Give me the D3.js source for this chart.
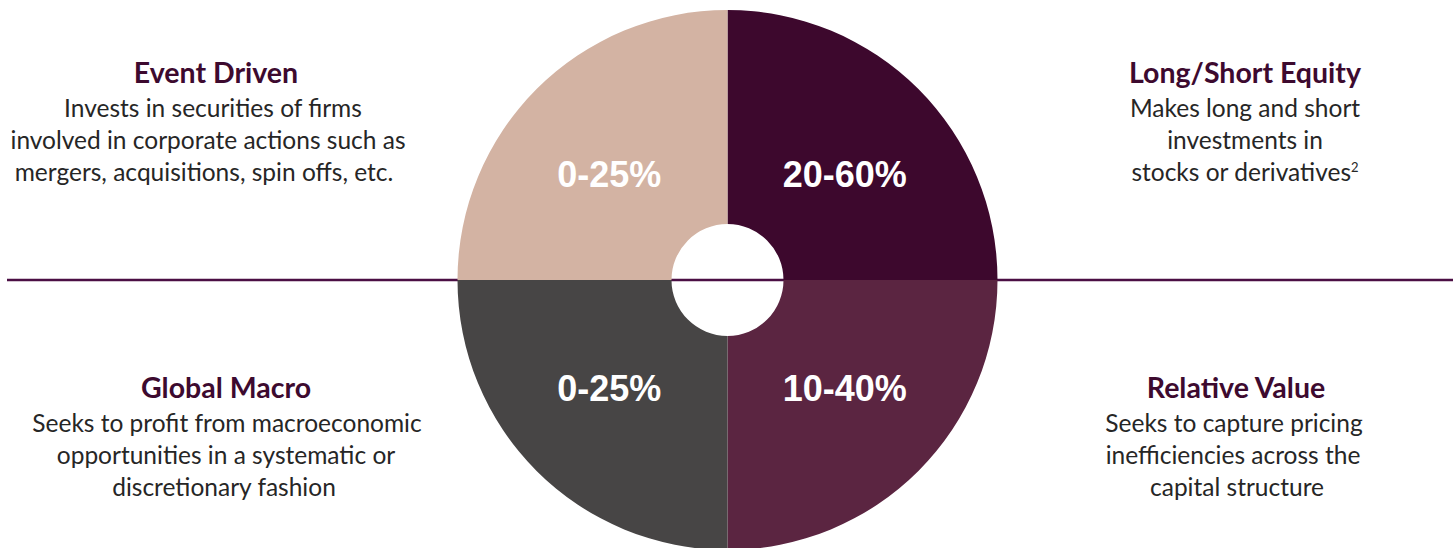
<!DOCTYPE html>
<html>
<head>
<meta charset="utf-8">
<script src="https://cdn.jsdelivr.net/npm/d3@7"></script>
<style>
  html, body { margin: 0; padding: 0; background: #fff; }
  svg { display: block; }
</style>
</head>
<body>
<div id="chart"></div>
<script>
// Datos: cuadrantes en sentido horario desde las 12
const estrategias = ['Long/Short Equity', 'Relative Value', 'Global Macro', 'Event Driven'];
const rangos = ['20-60%', '10-40%', '0-25%', '0-25%'];
const pesos = [1, 1, 1, 1];
const colores = ['#3d082d', '#5b2541', '#474545', '#d3b3a3'];
const descripciones = [
  ['Makes long and short', 'investments in', 'stocks or derivatives|2'],
  ['Seeks to capture pricing', 'inefficiencies across the', 'capital structure'],
  ['Seeks to profit from macroeconomic', 'opportunities in a systematic or', 'discretionary fashion'],
  ['Invests in securities of firms', 'involved in corporate actions such as', 'mergers, acquisitions, spin offs, etc.']
];

const width = 1453, height = 548;
const cx = 727.5, cy = 280;
const rExt = 270, rInt = 56;

const svg = d3.select('#chart').append('svg')
  .attr('width', width)
  .attr('height', height);

// Linea horizontal de fondo
svg.append('line')
  .attr('x1', 7).attr('x2', width)
  .attr('y1', cy).attr('y2', cy)
  .attr('stroke', '#4b0f44')
  .attr('stroke-width', 2.5);

// Donut
const pie = d3.pie().sort(null).value(d => d)(pesos);
const arco = d3.arc().innerRadius(rInt).outerRadius(rExt);

const g = svg.append('g').attr('transform', `translate(${cx},${cy})`);
g.selectAll('path').data(pie).enter().append('path')
  .attr('d', arco)
  .attr('fill', (d, i) => colores[i]);

// Etiquetas de porcentaje
g.selectAll('text.rango').data(pie).enter().append('text')
  .attr('class', 'rango')
  .attr('x', d => arco.centroid(d)[0] + (arco.centroid(d)[0] > 0 ? 2 : -3))
  .attr('y', d => arco.centroid(d)[1] * 0.93)
  .attr('dy', '0.38em')
  .attr('text-anchor', 'middle')
  .attr('font-family', '"Liberation Sans", Arial, sans-serif')
  .attr('font-weight', 'bold')
  .attr('font-size', 36)
  .attr('fill', '#fff')
  .text((d, i) => rangos[i]);

// Bloques de texto laterales (x del titulo y de cada linea)
const bloques = [
  { x: 1245, y: 83, xs: [1245, 1245, 1245] },
  { x: 1236, y: 398, xs: [1234, 1233, 1237] },
  { x: 226, y: 398, xs: [227, 226, 224] },
  { x: 216, y: 83, xs: [213, 208, 204] }
];

bloques.forEach((b, i) => {
  const t = svg.append('g').attr('transform', `translate(0,${b.y})`);
  t.append('text')
    .attr('x', b.x)
    .attr('text-anchor', 'middle')
    .attr('font-family', 'Lato, "Open Sans", sans-serif')
    .attr('font-weight', 'bold')
    .attr('font-size', 28.5)
    .attr('fill', '#3d0a2f')
    .text(estrategias[i]);

  descripciones[i].forEach((linea, j) => {
    const [txt, sup] = linea.split('|');
    const el = t.append('text')
      .attr('x', b.xs[j])
      .attr('y', 34 + j * 32)
      .attr('text-anchor', 'middle')
      .attr('font-family', 'Lato, "Open Sans", sans-serif')
      .attr('font-size', 24.5)
      .attr('fill', '#262626');
    el.append('tspan').text(txt);
    if (sup) {
      el.append('tspan')
        .attr('font-size', 13)
        .attr('dy', -9)
        .text(sup);
    }
  });
});
</script>
</body>
</html>
